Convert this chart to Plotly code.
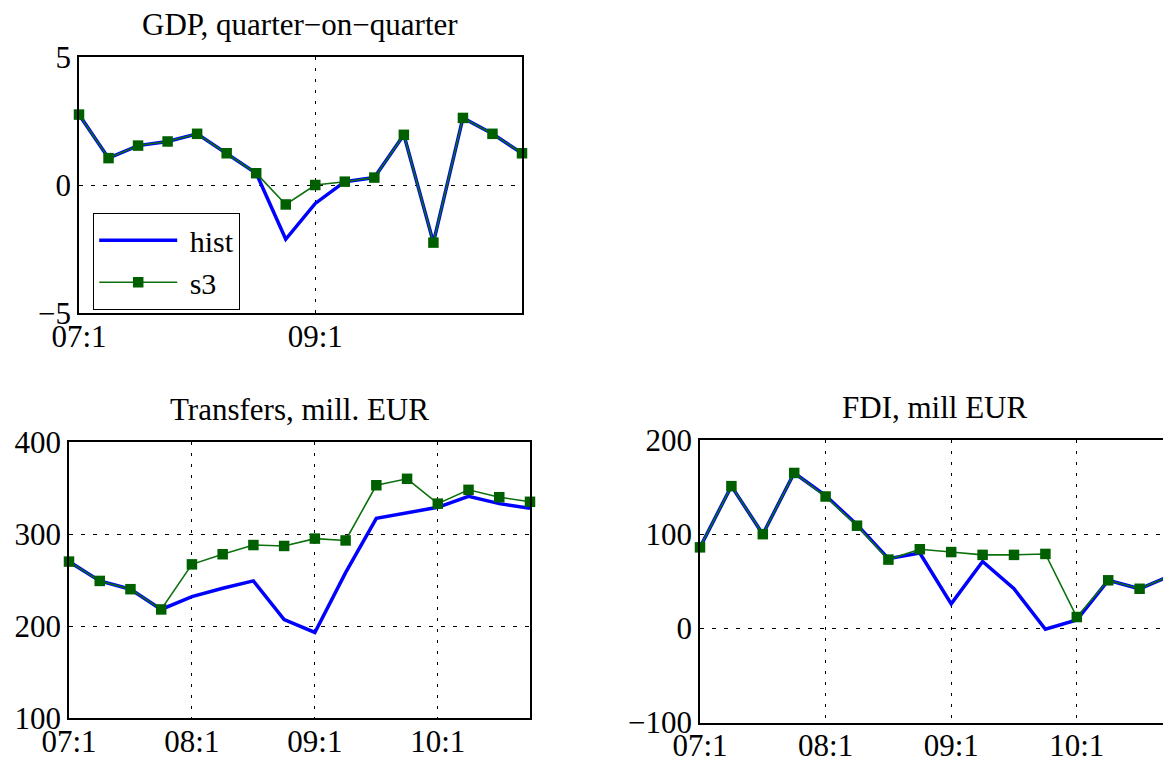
import plotly.graph_objects as go

quarters = ["07:1", "07:2", "07:3", "07:4", "08:1", "08:2", "08:3", "08:4",
            "09:1", "09:2", "09:3", "09:4", "10:1", "10:2", "10:3", "10:4"]

gdp_hist = [2.75, 1.05, 1.54, 1.70, 2.00, 1.24, 0.46, -2.12, -0.72, 0.13, 0.29, 1.96, -2.25, 2.62, 2.00, 1.24]
gdp_s3 = [2.75, 1.05, 1.54, 1.70, 2.00, 1.24, 0.46, -0.76, 0.00, 0.13, 0.29, 1.96, -2.25, 2.62, 2.00, 1.24]

tr_hist = [270, 249, 240, 218, 232, 241, 249, 207, 193, 258, 317, 323, 329, 341, 333, 328]
tr_s3 = [270, 249, 240, 218, 267, 278, 288, 287, 295, 293, 353, 360, 333, 348, 340, 335]

fdi_hist = [86, 151, 100, 165, 141, 110, 74, 80, 26, 71, 42, -1, 9, 51, 42, 56]
fdi_s3 = [86, 151, 100, 165, 140, 109, 73, 84, 81, 78, 78, 79, 12, 51, 42, 56]

titles = ["GDP, quarter\u2212on\u2212quarter", "Transfers, mill. EUR", "FDI, mill EUR"]
gdp_ticks = ["07:1", "09:1"]
year_ticks = ["07:1", "08:1", "09:1", "10:1"]
series_names = ["hist", "s3"]

FONT = "Liberation Serif"
BLUE = "#0000ff"
GREEN = "#0b700b"
MGREEN = "#006000"

# page is 1171x762; the html body has an 8px margin, so the figure is shrunk by it
OFF = 8
W, H = 1171 - OFF, 762 - OFF

def px_x(a, b):
    return [(a - OFF) / W, min(1.0, (b - OFF) / W)]

def px_y(top, bottom):
    return [1 - (bottom - OFF) / H, 1 - (top - OFF) / H]

panels = [
    dict(hist=gdp_hist, s3=gdp_s3, xd=px_x(79, 522), yd=px_y(57, 313),
         yr=[-5, 5], dt=5, ticks=gdp_ticks, title=titles[0], mirror_y=True, tc=300),
    dict(hist=tr_hist, s3=tr_s3, xd=px_x(69, 530), yd=px_y(442, 718),
         yr=[100, 400], dt=100, ticks=year_ticks, title=titles[1], mirror_y=True, tc=299),
    dict(hist=fdi_hist, s3=fdi_s3, xd=px_x(700, 1171), yd=px_y(440, 722.5),
         yr=[-100, 200], dt=100, ticks=year_ticks, title=titles[2], mirror_y=False, tc=934),
]

fig = go.Figure()
layout = dict(
    template="none",
    width=W, height=H, margin=dict(l=0, r=0, t=0, b=0, pad=0),
    paper_bgcolor="white", plot_bgcolor="white",
    font=dict(family=FONT, size=31, color="black"),
    annotations=[],
)

for i, p in enumerate(panels, start=1):
    xa = "x" if i == 1 else f"x{i}"
    ya = "y" if i == 1 else f"y{i}"
    fig.add_trace(go.Scatter(x=quarters, y=p["hist"], mode="lines",
                             name="\u00a0" + series_names[0],
                             line=dict(color=BLUE, width=3.5),
                             xaxis=xa, yaxis=ya, showlegend=(i == 1), cliponaxis=False))
    fig.add_trace(go.Scatter(x=quarters, y=p["s3"], mode="lines+markers",
                             name="\u00a0" + series_names[1],
                             line=dict(color=GREEN, width=1.6),
                             marker=dict(symbol="square", size=10.5, color=MGREEN,
                                         line=dict(width=0)),
                             xaxis=xa, yaxis=ya, showlegend=(i == 1), cliponaxis=False))
    xkey = "xaxis" if i == 1 else f"xaxis{i}"
    ykey = "yaxis" if i == 1 else f"yaxis{i}"
    layout[xkey] = dict(
        domain=p["xd"], anchor=ya, type="category", range=[0, 15], automargin=False,
        tickmode="array", tickvals=p["ticks"], ticktext=p["ticks"],
        showgrid=True, gridcolor="black", gridwidth=1.4, griddash="3px,8px",
        showline=True, linecolor="black", linewidth=1.5, mirror=True,
        ticks="", zeroline=False, tickfont=dict(size=31), ticklabelstandoff=-5,
    )
    layout[ykey] = dict(
        domain=p["yd"], anchor=xa, range=p["yr"], dtick=p["dt"], tick0=p["yr"][0],
        automargin=False,
        showgrid=True, gridcolor="black", gridwidth=1.4, griddash="4px,8px",
        showline=True, linecolor="black", linewidth=1.5, mirror=p["mirror_y"],
        ticks="", zeroline=False, tickfont=dict(size=31), ticklabelstandoff=0,
    )
    layout["annotations"].append(dict(
        text=p["title"], xref="paper", yref="paper",
        x=(p["tc"] - OFF) / W,
        y=p["yd"][1], xanchor="center", yanchor="bottom", yshift=13,
        showarrow=False, font=dict(size=31),
    ))

layout["legend"] = dict(
    x=(93 - OFF) / W, y=1 - (261.5 - OFF) / H, xanchor="left", yanchor="middle",
    bgcolor="white", bordercolor="black", borderwidth=1.2,
    font=dict(size=30), itemwidth=78, tracegroupgap=0,
)
fig.update_layout(**layout)
fig.write_html("out.html")
